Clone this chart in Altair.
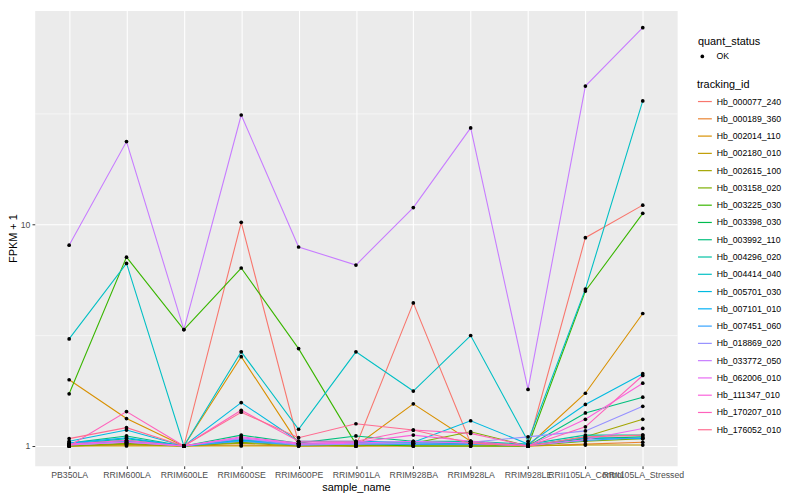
import altair as alt
import pandas as pd

samples = ["PB350LA", "RRIM600LA", "RRIM600LE", "RRIM600SE", "RRIM600PE", "RRIM901LA",
           "RRIM928BA", "RRIM928LA", "RRIM928LE", "RRII105LA_Control", "RRII105LA_Stressed"]

tracking_ids = ["Hb_000077_240", "Hb_000189_360", "Hb_002014_110", "Hb_002180_010",
                "Hb_002615_100", "Hb_003158_020", "Hb_003225_030", "Hb_003398_030",
                "Hb_003992_110", "Hb_004296_020", "Hb_004414_040", "Hb_005701_030",
                "Hb_007101_010", "Hb_007451_060", "Hb_018869_020", "Hb_033772_050",
                "Hb_062006_010", "Hb_111347_010", "Hb_170207_010", "Hb_176052_010"]

hb_000077_240 = [1.00, 1.02, 1.00, 10.2, 1.03, 1.00, 4.42, 1.03, 1.00, 8.7, 12.2]
hb_000189_360 = [1.00, 1.01, 1.00, 1.01, 1.00, 1.00, 1.00, 1.00, 1.00, 1.02, 1.04]
hb_002014_110 = [1.99, 1.33, 1.00, 2.53, 1.02, 1.00, 1.55, 1.05, 1.00, 1.73, 3.96]
hb_002180_010 = [1.00, 1.00, 1.00, 1.00, 1.00, 1.00, 1.00, 1.00, 1.00, 1.01, 1.01]
hb_002615_100 = [1.00, 1.02, 1.00, 1.03, 1.00, 1.01, 1.01, 1.02, 1.00, 1.10, 1.32]
hb_003158_020 = [1.00, 1.03, 1.00, 1.04, 1.01, 1.00, 1.03, 1.16, 1.00, 1.05, 1.08]
hb_003225_030 = [1.72, 7.11, 3.35, 6.35, 2.75, 1.02, 1.00, 1.00, 1.00, 5.0, 11.2]
hb_003398_030 = [1.02, 1.06, 1.00, 1.06, 1.02, 1.03, 1.02, 1.03, 1.00, 1.08, 1.10]
hb_003992_110 = [1.03, 1.11, 1.00, 1.12, 1.03, 1.11, 1.05, 1.05, 1.00, 1.41, 1.66]
hb_004296_020 = [1.02, 1.08, 1.00, 1.07, 1.02, 1.04, 1.03, 1.05, 1.02, 1.12, 1.12]
hb_004414_040 = [3.04, 6.66, 1.00, 2.66, 1.19, 2.66, 1.77, 3.15, 1.05, 5.1, 36.0]
hb_005701_030 = [1.05, 1.18, 1.00, 1.57, 1.05, 1.05, 1.04, 1.30, 1.02, 1.54, 2.12]
hb_007101_010 = [1.03, 1.09, 1.00, 1.06, 1.02, 1.03, 1.02, 1.02, 1.01, 1.09, 1.08]
hb_007451_060 = [1.02, 1.05, 1.00, 1.05, 1.01, 1.02, 1.02, 1.02, 1.01, 1.06, 1.09]
hb_018869_020 = [1.01, 1.04, 1.00, 1.08, 1.01, 1.02, 1.03, 1.04, 1.10, 1.17, 1.51]
hb_033772_050 = [8.05, 23.6, 3.35, 31.1, 7.9, 6.55, 11.9, 27.2, 1.80, 42.0, 77.0]
hb_062006_010 = [1.01, 1.04, 1.00, 1.09, 1.02, 1.03, 1.05, 1.03, 1.00, 1.07, 1.20]
hb_111347_010 = [1.02, 1.06, 1.00, 1.10, 1.03, 1.04, 1.12, 1.05, 1.00, 1.32, 1.92]
hb_170207_010 = [1.00, 1.43, 1.00, 1.45, 1.05, 1.05, 1.18, 1.14, 1.00, 1.22, 2.08]
hb_176052_010 = [1.08, 1.21, 1.00, 1.42, 1.09, 1.26, 1.18, 1.03, 1.00, 1.10, 1.12]

series_values = [hb_000077_240, hb_000189_360, hb_002014_110, hb_002180_010, hb_002615_100,
                 hb_003158_020, hb_003225_030, hb_003398_030, hb_003992_110, hb_004296_020,
                 hb_004414_040, hb_005701_030, hb_007101_010, hb_007451_060, hb_018869_020,
                 hb_033772_050, hb_062006_010, hb_111347_010, hb_170207_010, hb_176052_010]

palette = ["#F8766D", "#EA8331", "#D89000", "#C09B00", "#A3A500", "#7CAE00", "#39B600",
           "#00BB4E", "#00BF7D", "#00C1A3", "#00BFC4", "#00BAE0", "#00B0F6", "#35A2FF",
           "#9590FF", "#C77CFF", "#E76BF3", "#FA62DB", "#FF62BC", "#FF6C91"]

y_major = [1, 10]
y_minor = [10 ** 0.5, 10 ** 1.5]

rows = []
for tid, vals in zip(tracking_ids, series_values):
    for i, (s, v) in enumerate(zip(samples, vals)):
        rows.append({"sample_name": s, "tracking_id": tid, "fpkm1": v,
                     "quant_status": "OK", "idx": i})
df = pd.DataFrame(rows)

FONT = "Liberation Sans"

x_enc = alt.X("sample_name:N", sort=samples,
              scale=alt.Scale(type="point", padding=0.6),
              axis=alt.Axis(title="sample_name", labelAngle=0, labelOverlap=False,
                            labelBound=False, labelFlush=False, domain=False,
                            tickSize=2.75, tickColor="#333333", tickWidth=1,
                            labelPadding=2.2, labelFontSize=8.8, labelColor="#4D4D4D",
                            titleFontSize=11, titleFontWeight="normal", titleColor="black",
                            titlePadding=2, grid=True, gridColor="white", gridWidth=1.07))

y_scale = alt.Scale(type="log", domain=[0.814, 92.1], nice=False)

lines = alt.Chart(df).mark_line(strokeWidth=1.1).encode(
    x=x_enc,
    y=alt.Y("fpkm1:Q", scale=y_scale,
            axis=alt.Axis(values=y_major, format="~g", title="FPKM + 1", domain=False,
                          tickSize=2.75, tickColor="#333333", labelPadding=2.2,
                          labelFontSize=8.8, labelColor="#4D4D4D", titleFontSize=11,
                          titleFontWeight="normal", titleColor="black", titlePadding=2,
                          grid=True, gridColor="white", gridWidth=1.07)),
    color=alt.Color("tracking_id:N", scale=alt.Scale(domain=tracking_ids, range=palette),
                    legend=alt.Legend(title="tracking_id", orient="none", legendX=669,
                                      legendY=69, symbolType="stroke", symbolSize=196,
                                      symbolStrokeWidth=1.2, rowPadding=4.45,
                                      titlePadding=4, padding=0, labelFontSize=8.8,
                                      labelColor="black", titleFontSize=11,
                                      titleFontWeight="normal", titleColor="black",
                                      labelOffset=4)),
    order=alt.Order("idx:Q"),
)

points = alt.Chart(df).mark_point(filled=True, color="black", size=14, opacity=1).encode(
    x=x_enc,
    y=alt.Y("fpkm1:Q", scale=y_scale,
            axis=alt.Axis(values=y_minor, orient="right", labels=False, ticks=False,
                          domain=False, title="", grid=True, gridColor="white",
                          gridWidth=0.53)),
    shape=alt.Shape("quant_status:N", scale=alt.Scale(domain=["OK"], range=["circle"]),
                    legend=alt.Legend(title="quant_status", orient="none", legendX=670,
                                      legendY=26, symbolSize=14, symbolFillColor="black",
                                      symbolStrokeColor="black", titlePadding=5,
                                      padding=0, labelFontSize=8.8, labelColor="black",
                                      titleFontSize=11, titleFontWeight="normal",
                                      titleColor="black", labelOffset=10)),
)

chart = alt.layer(lines, points).resolve_axis(y="independent").properties(
    width=649, height=460,
    autosize=alt.AutoSizeParams(type="none"),
    padding={"left": 27, "top": 0, "right": 116, "bottom": 30},
).configure(font=FONT).configure_view(fill="#EBEBEB", stroke="transparent")

chart.save("out.html", embed_options={"renderer": "svg", "actions": False})
